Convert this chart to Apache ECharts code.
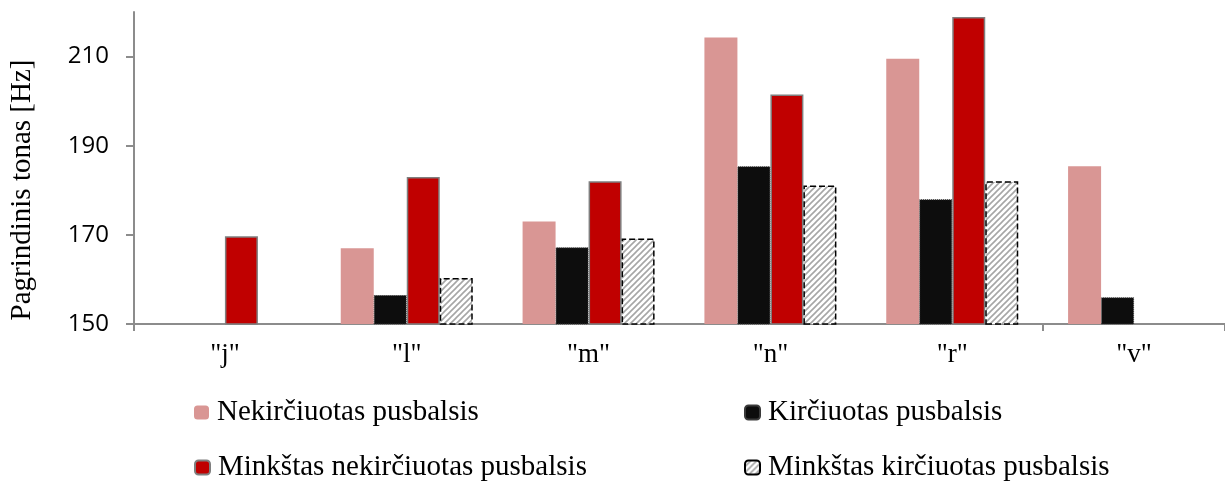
<!DOCTYPE html>
<html>
<head>
<meta charset="utf-8">
<script src="https://cdn.jsdelivr.net/npm/echarts@6/dist/echarts.min.js"></script>
<style>html,body{margin:0;padding:0;background:#fff}#c{width:1225px;height:483px}</style>
</head>
<body>
<div id="c"></div>
<script>
const categories = ['"j"', '"l"', '"m"', '"n"', '"r"', '"v"'];
const nekirciuotas = [null, 167.0, 173.0, 214.3, 209.5, 185.4];
const kirciuotas = [null, 156.5, 167.2, 185.4, 178.0, 156.0];
const minkstasNekirciuotas = [169.7, 183.0, 182.0, 201.5, 218.9, null];
const minkstasKirciuotas = [null, 160.3, 169.2, 181.1, 182.0, null];
const yTicks = [150, 170, 190, 210];
const seriesNames = ['Nekirčiuotas pusbalsis', 'Kirčiuotas pusbalsis', 'Minkštas nekirčiuotas pusbalsis', 'Minkštas kirčiuotas pusbalsis'];

function hatch() {
  const c = document.createElement('canvas');
  c.width = 6; c.height = 6;
  const g = c.getContext('2d');
  g.fillStyle = '#ffffff'; g.fillRect(0, 0, 6, 6);
  g.strokeStyle = '#a6a6a6'; g.lineWidth = 1.6;
  g.beginPath();
  g.moveTo(-1, 7); g.lineTo(7, -1);
  g.moveTo(-4, 4); g.lineTo(4, -4);
  g.moveTo(2, 10); g.lineTo(10, 2);
  g.stroke();
  return c;
}

const chart = echarts.init(document.getElementById('c'));
const serif = '"Liberation Serif", "Times New Roman", serif';
const axisGray = '#8c8c8c';
function legendAt(i, left, top) {
  return {
    data: [seriesNames[i]], left: left, top: top, padding: 0,
    itemWidth: 15, itemHeight: 14,
    textStyle: { fontFamily: serif, fontSize: 29, color: '#000', padding: [0, 0, 0, 3] }
  };
}
chart.setOption({
  animation: false,
  grid: { left: 132, right: 0, top: 12, bottom: 159, containLabel: false },
  legend: [legendAt(0, 194, 398), legendAt(1, 744, 398), legendAt(2, 194, 453), legendAt(3, 744, 453)],
  xAxis: {
    type: 'category', data: categories,
    axisLine: { lineStyle: { color: axisGray, width: 2 } },
    axisTick: { show: true, length: 7, lineStyle: { color: axisGray, width: 2 }, interval: function (i) { return i === 0 || i === 5; } },
    axisLabel: { fontFamily: serif, fontSize: 27, color: '#000', margin: 17 }
  },
  yAxis: {
    type: 'value', min: 150, max: 220, interval: 20,
    name: 'Pagrindinis tonas [Hz]', nameLocation: 'middle', nameGap: 97,
    nameTextStyle: { fontFamily: serif, fontSize: 29, color: '#000', padding: [0, 44, 0, 0] },
    splitLine: { show: false },
    axisLine: { show: true, lineStyle: { color: axisGray, width: 2 } },
    axisTick: { show: true, length: 8, customValues: yTicks, lineStyle: { color: axisGray, width: 2 } },
    axisLabel: { customValues: yTicks, fontFamily: '"Open Sans", sans-serif', fontSize: 24, color: '#000', margin: 25 }
  },
  series: [
    { name: seriesNames[0], type: 'bar', data: nekirciuotas, barWidth: 33, barGap: '0%',
      itemStyle: { color: '#d99694' } },
    { name: seriesNames[1], type: 'bar', data: kirciuotas, barWidth: 33, barGap: '0%',
      itemStyle: { color: '#0d0d0d', borderColor: '#3a3a3a', borderWidth: 1, borderType: 'dotted' } },
    { name: seriesNames[2], type: 'bar', data: minkstasNekirciuotas, barWidth: 33, barGap: '0%',
      itemStyle: { color: '#c00000', borderColor: '#7f7f7f', borderWidth: 1.5 } },
    { name: seriesNames[3], type: 'bar', data: minkstasKirciuotas, barWidth: 33, barGap: '0%',
      itemStyle: { color: { image: hatch(), repeat: 'repeat' }, borderColor: '#000', borderWidth: 1.5, borderType: 'dashed' } }
  ]
});
</script>
</body>
</html>
